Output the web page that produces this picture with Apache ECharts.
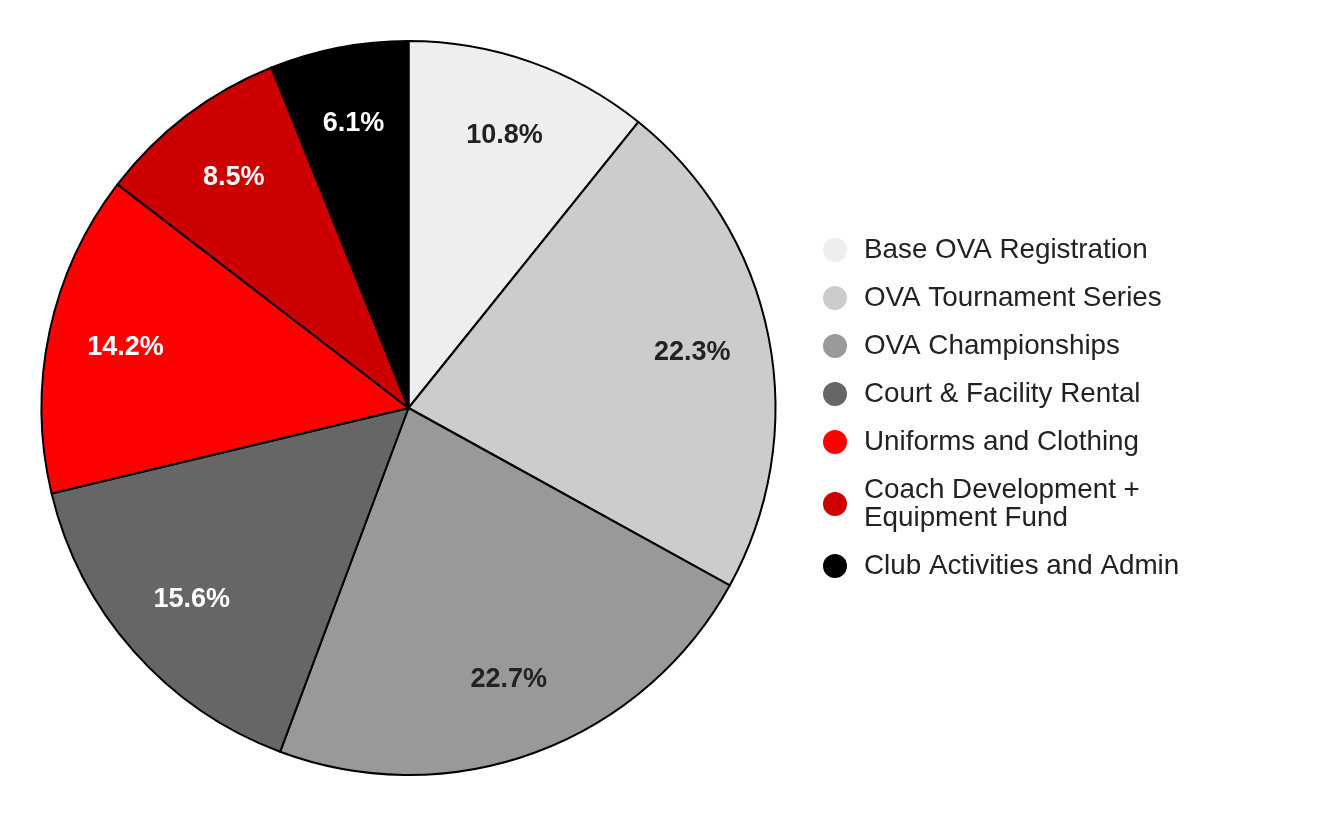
<!DOCTYPE html>
<html lang="en">
<head>
    <meta charset="UTF-8">
    <title>Budget Breakdown</title>
    <script src="https://cdn.jsdelivr.net/npm/echarts@6/dist/echarts.min.js"></script>
    <style>
        body, html {
            height: 100%;
            margin: 0;
            background: #fff;
        }

        #chart {
            width: 1322px;
            height: 816px;
        }
    </style>
</head>
<body>
<div id="chart"></div>
<script>
    // 数据
    const categories = ['Base OVA Registration', 'OVA Tournament Series', 'OVA Championships',
        'Court & Facility Rental', 'Uniforms and Clothing', 'Coach Development + Equipment Fund',
        'Club Activities and Admin'];
    const legendLabels = ['Base OVA Registration', 'OVA Tournament Series', 'OVA Championships',
        'Court & Facility Rental', 'Uniforms and Clothing', 'Coach Development +\nEquipment Fund',
        'Club Activities and Admin'];
    const values = [10.8, 22.3, 22.7, 15.6, 14.2, 8.5, 6.1];
    const colors = ['#eeeeee', '#cccccc', '#999999', '#666666', '#ff0000', '#cc0000', '#000000'];
    const labelColors = ['#222', '#222', '#222', '#fff', '#fff', '#fff', '#fff'];

    const chart = echarts.init(document.getElementById('chart'));
    const R = 367;

    const option = {
        animation: false,
        legend: {
            orient: 'vertical',
            left: 823,
            top: 236,
            padding: 0,
            icon: 'circle',
            itemWidth: 48,
            itemHeight: 24,
            itemGap: 20,
            itemStyle: {borderWidth: 0},
            // 两行的图例项：图标对齐第一行
            data: categories.map((name, i) => legendLabels[i].indexOf('\n') >= 0
                ? {name: name, textStyle: {height: 28}}
                : name),
            formatter: function (name) {
                return legendLabels[categories.indexOf(name)];
            },
            textStyle: {
                fontFamily: 'Liberation Sans, Arial, sans-serif',
                fontSize: 27.8,
                lineHeight: 28,
                color: '#222'
            }
        },
        series: [
            {
                type: 'pie',
                center: [408.5, 408],
                radius: [0, R],
                startAngle: 90,
                clockwise: true,
                silent: true,
                label: {show: false},
                labelLine: {show: false},
                itemStyle: {borderColor: '#000', borderWidth: 2},
                data: categories.map((name, i) => ({
                    name: name,
                    value: values[i],
                    itemStyle: {color: colors[i]}
                }))
            },
            {
                // 标签层
                type: 'pie',
                center: [408.5, 408],
                radius: [R * 0.56, R],
                startAngle: 90,
                clockwise: true,
                silent: true,
                itemStyle: {color: 'transparent', borderWidth: 0},
                labelLine: {show: false},
                label: {
                    show: true,
                    position: 'inside',
                    formatter: p => p.value.toFixed(1) + '%',
                    fontFamily: 'Liberation Sans, Arial, sans-serif',
                    fontWeight: 'bold',
                    fontSize: 27
                },
                data: categories.map((name, i) => ({
                    name: name,
                    value: values[i],
                    label: {color: labelColors[i]}
                }))
            }
        ]
    };

    chart.setOption(option);
</script>
</body>
</html>
